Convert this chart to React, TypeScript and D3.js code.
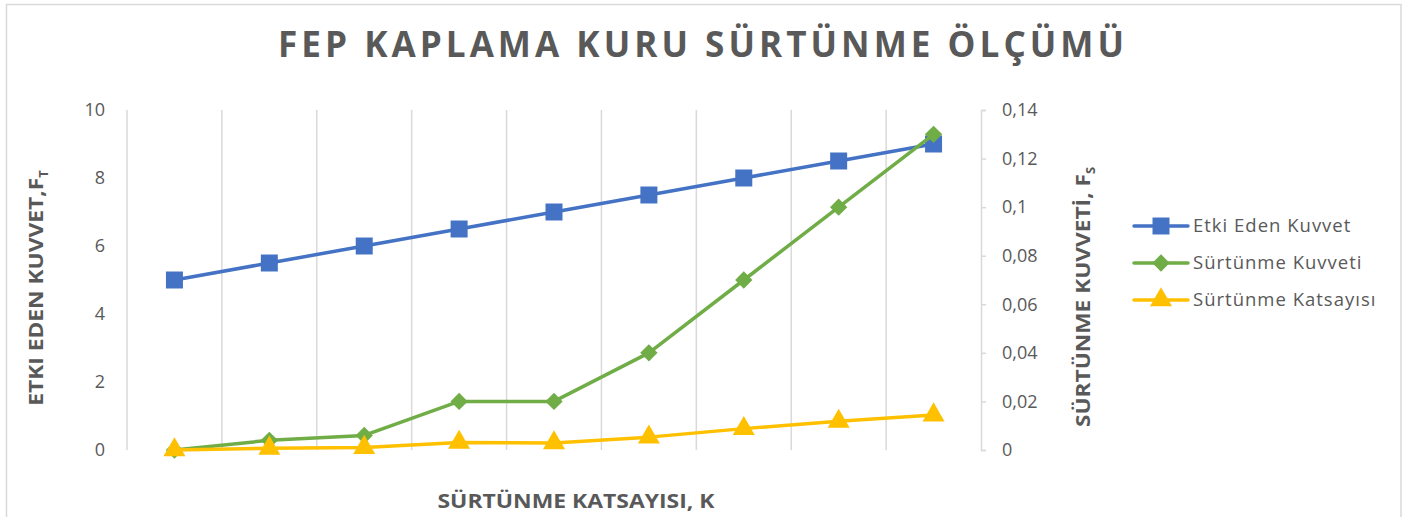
import React, { useRef, useEffect } from "react";
import * as d3 from "d3";

// categories have no labels on the chart
const categories = ["1", "2", "3", "4", "5", "6", "7", "8", "9"];
const etkiEdenKuvvet = [5, 5.5, 6, 6.5, 7, 7.5, 8, 8.5, 9];
const surtunmeKuvveti = [0, 0.004, 0.006, 0.02, 0.02, 0.04, 0.07, 0.1, 0.13];
const surtunmeKatsayisi = [0, 0.0007, 0.001, 0.0031, 0.0029, 0.0053, 0.0088, 0.0118, 0.0144];
const leftTicks = [0, 2, 4, 6, 8, 10];
const rightTicks = [0, 0.02, 0.04, 0.06, 0.08, 0.1, 0.12, 0.14];

const W = 1415;
const H = 517;
const FONT = "'Open Sans', 'Liberation Sans', sans-serif";
const TXT = "#595959";

function App() {
  const ref = useRef<SVGSVGElement>(null);

  useEffect(() => {
    document.body.style.margin = "0";
    const svg = d3.select(ref.current);
    svg.selectAll("*").remove();

    const m = { left: 127, right: 981, top: 110, bottom: 450 };

    const x = d3.scaleBand().domain(categories).range([m.left, m.right]);
    const yL = d3.scaleLinear().domain([0, 10]).range([m.bottom, m.top]);
    const yR = d3.scaleLinear().domain([0, 0.14]).range([m.bottom, m.top]);
    const cx = (i: number) => (x(categories[i]) as number) + x.bandwidth() / 2;

    // chart border
    svg
      .append("rect")
      .attr("x", 6.5)
      .attr("y", 4.5)
      .attr("width", 1394.5)
      .attr("height", 520)
      .attr("fill", "white")
      .attr("stroke", "#d9d9d9")
      .attr("stroke-width", 1.5);

    // vertical gridlines at band edges
    svg
      .append("g")
      .selectAll("line")
      .data(categories)
      .join("line")
      .attr("x1", (d) => x(d) as number)
      .attr("x2", (d) => x(d) as number)
      .attr("y1", m.top)
      .attr("y2", m.bottom)
      .attr("stroke", "#d9d9d9")
      .attr("stroke-width", 1.5);

    // right axis
    const rAxis = svg
      .append("g")
      .attr("transform", `translate(${m.right},0)`)
      .call(
        d3
          .axisRight(yR)
          .tickValues(rightTicks)
          .tickSize(5)
          .tickPadding(16)
          .tickFormat((d) => String(d).replace(".", ","))
      );
    rAxis.select(".domain").attr("stroke", "#d9d9d9").attr("stroke-width", 1.5);
    rAxis.selectAll(".tick line").attr("stroke", "#d9d9d9").attr("stroke-width", 1.5);
    rAxis
      .selectAll(".tick text")
      .attr("fill", TXT)
      .style("font-family", FONT)
      .style("font-size", "18px");

    // left axis
    const lAxis = svg
      .append("g")
      .attr("transform", `translate(${m.left},0)`)
      .call(d3.axisLeft(yL).tickValues(leftTicks).tickSize(0).tickPadding(22));
    lAxis.select(".domain").remove();
    lAxis
      .selectAll(".tick text")
      .attr("fill", TXT)
      .style("font-family", FONT)
      .style("font-size", "18px");

    const diamond = (size: number) => {
      const r = Math.sqrt(size) / Math.SQRT2;
      return `M0,${-r}L${r},0L0,${r}L${-r},0Z`;
    };

    const series = [
      { name: "Etki Eden Kuvvet", values: etkiEdenKuvvet, y: yL, color: "#4472C4", path: d3.symbol().type(d3.symbolSquare).size(289)() as string },
      { name: "Sürtünme Kuvveti", values: surtunmeKuvveti, y: yR, color: "#70AD47", path: diamond(150) },
      { name: "Sürtünme Katsayısı", values: surtunmeKatsayisi, y: yR, color: "#FFC000", path: d3.symbol().type(d3.symbolTriangle).size(210)() as string },
    ];

    series.forEach((s) => {
      const line = d3
        .line<number>()
        .x((_, i) => cx(i))
        .y((d) => s.y(d));
      svg
        .append("path")
        .datum(s.values)
        .attr("d", line)
        .attr("fill", "none")
        .attr("stroke", s.color)
        .attr("stroke-width", 3.5)
        .attr("stroke-linejoin", "round")
        .attr("stroke-linecap", "round");
      svg
        .append("g")
        .selectAll("path")
        .data(s.values)
        .join("path")
        .attr("transform", (d, i) => `translate(${cx(i)},${s.y(d)})`)
        .attr("d", s.path)
        .attr("fill", s.color);
    });

    // legend
    const lg = svg.append("g").attr("transform", "translate(1134,226)");
    series.forEach((s, i) => {
      const row = lg.append("g").attr("transform", `translate(0,${i * 37})`);
      row
        .append("line")
        .attr("x1", 0)
        .attr("x2", 54)
        .attr("stroke", s.color)
        .attr("stroke-width", 3.5)
        .attr("stroke-linecap", "round");
      row
        .append("path")
        .attr("transform", "translate(27,0)")
        .attr("d", s.path)
        .attr("fill", s.color);
      row
        .append("text")
        .attr("x", 59)
        .attr("dy", "0.35em")
        .attr("fill", TXT)
        .style("font-family", FONT)
        .style("font-size", "18.5px")
        .style("letter-spacing", "1px")
        .text(s.name);
    });

    // title
    svg
      .append("text")
      .attr("x", 703)
      .attr("y", 57)
      .attr("text-anchor", "middle")
      .attr("fill", TXT)
      .attr("textLength", 850)
      .attr("lengthAdjust", "spacingAndGlyphs")
      .style("font-family", FONT)
      .style("font-weight", "bold")
      .style("font-size", "35px")
      .style("letter-spacing", "4px")
      .text("FEP KAPLAMA KURU SÜRTÜNME ÖLÇÜMÜ");

    // x axis title
    svg
      .append("text")
      .attr("x", 576)
      .attr("y", 508)
      .attr("text-anchor", "middle")
      .attr("fill", TXT)
      .attr("textLength", 277)
      .attr("lengthAdjust", "spacingAndGlyphs")
      .style("font-family", FONT)
      .style("font-weight", "bold")
      .style("font-size", "19px")
      .text("SÜRTÜNME KATSAYISI, K");

    // left y title
    const lt = svg
      .append("text")
      .attr("transform", "translate(43,288) rotate(-90)")
      .attr("text-anchor", "middle")
      .attr("fill", TXT)
      .style("font-family", FONT)
      .style("font-weight", "bold")
      .style("font-size", "19px");
    lt.append("tspan").attr("textLength", 228).attr("lengthAdjust", "spacingAndGlyphs").text("ETKI EDEN KUVVET,F");
    lt.append("tspan").attr("dy", 5).style("font-size", "13px").text("T");

    // right y title
    const rt = svg
      .append("text")
      .attr("transform", "translate(1090,297) rotate(-90)")
      .attr("text-anchor", "middle")
      .attr("fill", TXT)
      .style("font-family", FONT)
      .style("font-weight", "bold")
      .style("font-size", "19px");
    rt.append("tspan").attr("textLength", 253).attr("lengthAdjust", "spacingAndGlyphs").text("SÜRTÜNME KUVVETİ, F");
    rt.append("tspan").attr("dy", 5).style("font-size", "13px").text("S");
  }, []);

  return <svg ref={ref} width={W} height={H} style={{ display: "block" }}></svg>;
}

export default App;
